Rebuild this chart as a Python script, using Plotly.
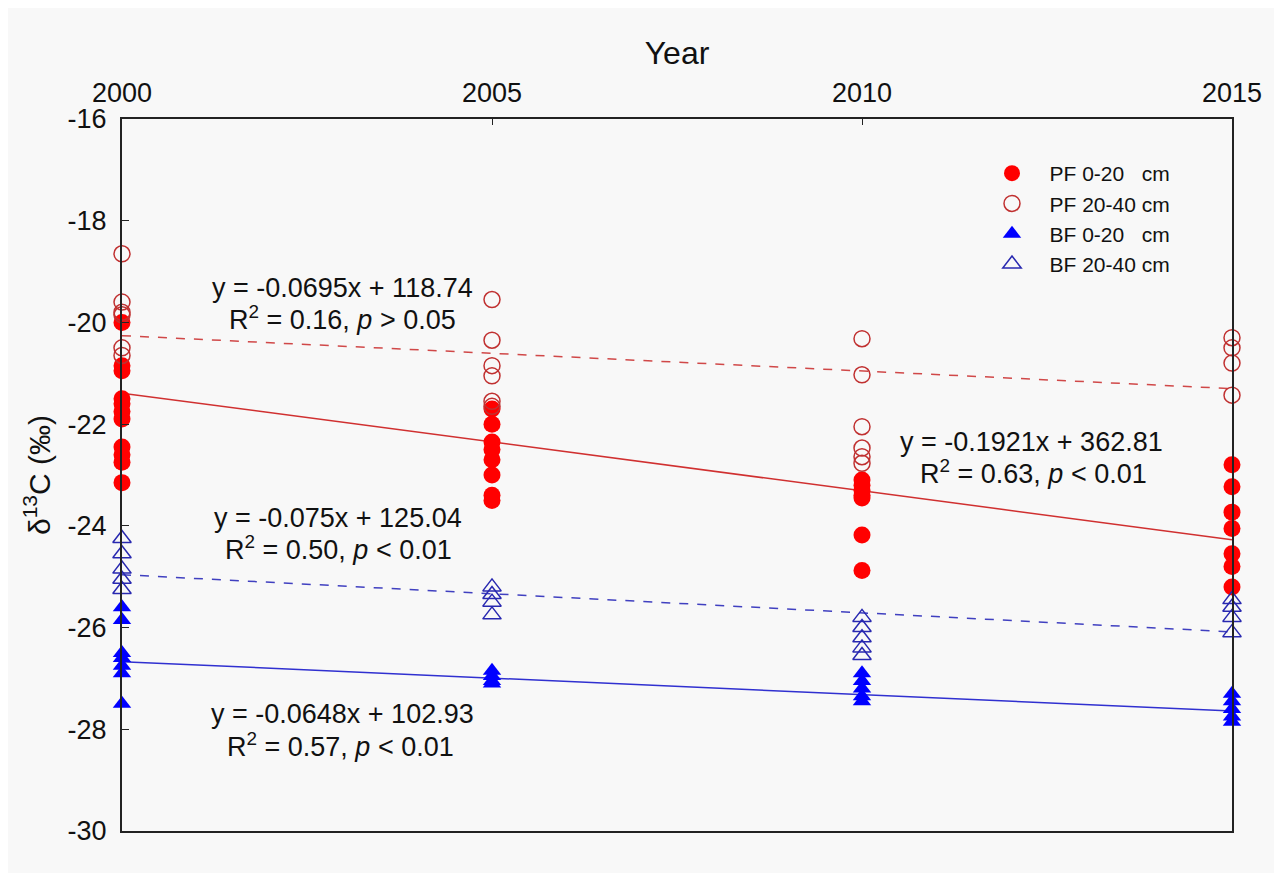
import plotly.graph_objects as go

years = [2000, 2005, 2010, 2015]
y_ticks = [-30, -28, -26, -24, -22, -20, -18, -16]

pf_0_20 = {
    2000: [-20.0, -20.85, -20.95, -21.5, -21.6, -21.75, -21.9, -22.45, -22.6, -22.75, -23.15],
    2005: [-21.7, -22.0, -22.35, -22.5, -22.7, -23.0, -23.4, -23.5],
    2010: [-23.1, -23.2, -23.3, -23.4, -23.45, -24.18, -24.88],
    2015: [-22.8, -23.23, -23.73, -24.05, -24.55, -24.8, -25.2],
}
pf_20_40 = {
    2000: [-18.65, -19.6, -19.8, -19.85, -20.5, -20.65],
    2005: [-19.55, -20.35, -20.85, -21.05, -21.55, -21.65],
    2010: [-20.32, -21.03, -22.05, -22.47, -22.64, -22.77],
    2015: [-20.3, -20.5, -20.8, -21.43],
}
bf_0_20 = {
    2000: [-25.6, -25.85, -26.5, -26.6, -26.75, -26.9, -27.5],
    2005: [-26.85, -26.95, -27.05, -27.1],
    2010: [-26.9, -27.05, -27.2, -27.35, -27.45],
    2015: [-27.3, -27.45, -27.6, -27.75, -27.85],
}
bf_20_40 = {
    2000: [-24.25, -24.55, -24.85, -25.05, -25.25],
    2005: [-25.2, -25.35, -25.5, -25.75],
    2010: [-25.8, -26.0, -26.2, -26.4, -26.55],
    2015: [-25.45, -25.6, -25.8, -26.1],
}

# regression coefficients (slope, intercept)
fit_pf_0_20 = (-0.1921, 362.81)
fit_pf_20_40 = (-0.0695, 118.74)
fit_bf_0_20 = (-0.0648, 102.93)
fit_bf_20_40 = (-0.075, 125.04)

def flat(d):
    xs, ys = [], []
    for yr in years:
        for v in d[yr]:
            xs.append(yr)
            ys.append(v)
    return xs, ys

fig = go.Figure()

line_x = [2000, 2015]
for (m, b), col, dash in [
    (fit_pf_20_40, "#d04848", "dash"),
    (fit_pf_0_20, "#d03030", "solid"),
    (fit_bf_20_40, "#4040c0", "dash"),
    (fit_bf_0_20, "#3030d0", "solid"),
]:
    fig.add_trace(go.Scatter(
        x=line_x, y=[m * xx + b for xx in line_x], mode="lines",
        line=dict(color=col, width=1.5, dash=dash), showlegend=False,
        hoverinfo="skip"))

nb = "\u00a0"
pre = nb * 3
series = [
    (pf_0_20, pre + "PF 0-20" + nb * 3 + "cm", dict(symbol="circle", size=17, color="#ff0000", line=dict(width=0))),
    (pf_20_40, pre + "PF 20-40 cm", dict(symbol="circle-open", size=16, color="#c03030", line=dict(width=1.5))),
    (bf_0_20, pre + "BF 0-20" + nb * 3 + "cm", dict(symbol="triangle-up", size=16, color="#0000ff", line=dict(width=0))),
    (bf_20_40, pre + "BF 20-40 cm", dict(symbol="triangle-up-open", size=16, color="#2828b0", line=dict(width=1.5))),
]
for d, name, mk in series:
    xs, ys = flat(d)
    fig.add_trace(go.Scatter(x=xs, y=ys, mode="markers", name=name, marker=mk, cliponaxis=False))

FONT = "Arial, Liberation Sans, sans-serif"
ann_font = dict(family=FONT, size=27, color="#111111")
annots = [
    (342, 288, "y = -0.0695x + 118.74"),
    (342, 318, "R<sup>2</sup> = 0.16, <i>p</i> &gt; 0.05"),
    (1031, 442, "y = -0.1921x + 362.81"),
    (1033, 472, "R<sup>2</sup> = 0.63, <i>p</i> &lt; 0.01"),
    (338, 518, "y = -0.075x + 125.04"),
    (338, 548, "R<sup>2</sup> = 0.50, <i>p</i> &lt; 0.01"),
    (342, 714, "y = -0.0648x + 102.93"),
    (340, 745, "R<sup>2</sup> = 0.57, <i>p</i> &lt; 0.01"),
]
# plot-area edges in page pixels (page has an 8px body margin)
L, R, T, B = 122, 1232, 119, 831
OFF = 8
W, H = 1282 - 2 * OFF, 881 - 2 * OFF
for px, py, txt in annots:
    fig.add_annotation(
        x=(px - L) / (R - L), y=(B - py) / (B - T), xref="paper", yref="paper",
        text=txt, showarrow=False, font=ann_font, xanchor="center", yanchor="middle")

fig.update_layout(
    width=W, height=H,
    margin=dict(l=L - OFF, r=W - (R - OFF), t=T - OFF, b=H - (B - OFF)),
    paper_bgcolor="#f8f8f8", plot_bgcolor="#f8f8f8",
    font=dict(family=FONT, size=27, color="#111111"),
    legend=dict(x=(992 - L) / (R - L), y=(B - 153) / (B - T), xanchor="left", yanchor="top",
                bgcolor="rgba(0,0,0,0)", font=dict(size=21), itemwidth=30,
                tracegroupgap=0),
    showlegend=True,
)
fig.update_xaxes(
    side="top", range=[2000, 2015], tickvals=years, ticktext=[str(y) for y in years],
    showgrid=False, zeroline=False, showline=True, linecolor="#222222", linewidth=2,
    mirror=True, ticks="inside", ticklen=6, tickcolor="#222222", ticklabelstandoff=4,
    title=dict(text="Year", font=dict(size=32), standoff=4),
)
fig.update_yaxes(
    range=[-30, -16], tickvals=y_ticks, ticktext=[str(v) for v in y_ticks],
    showgrid=False, zeroline=False, showline=True, linecolor="#222222", linewidth=2,
    mirror=True, ticks="inside", ticklen=7, tickcolor="#222222", ticklabelstandoff=8,
    title=dict(text="δ<sup>13</sup>C (‰)", font=dict(size=30), standoff=8),
)

fig.write_html("out.html")
